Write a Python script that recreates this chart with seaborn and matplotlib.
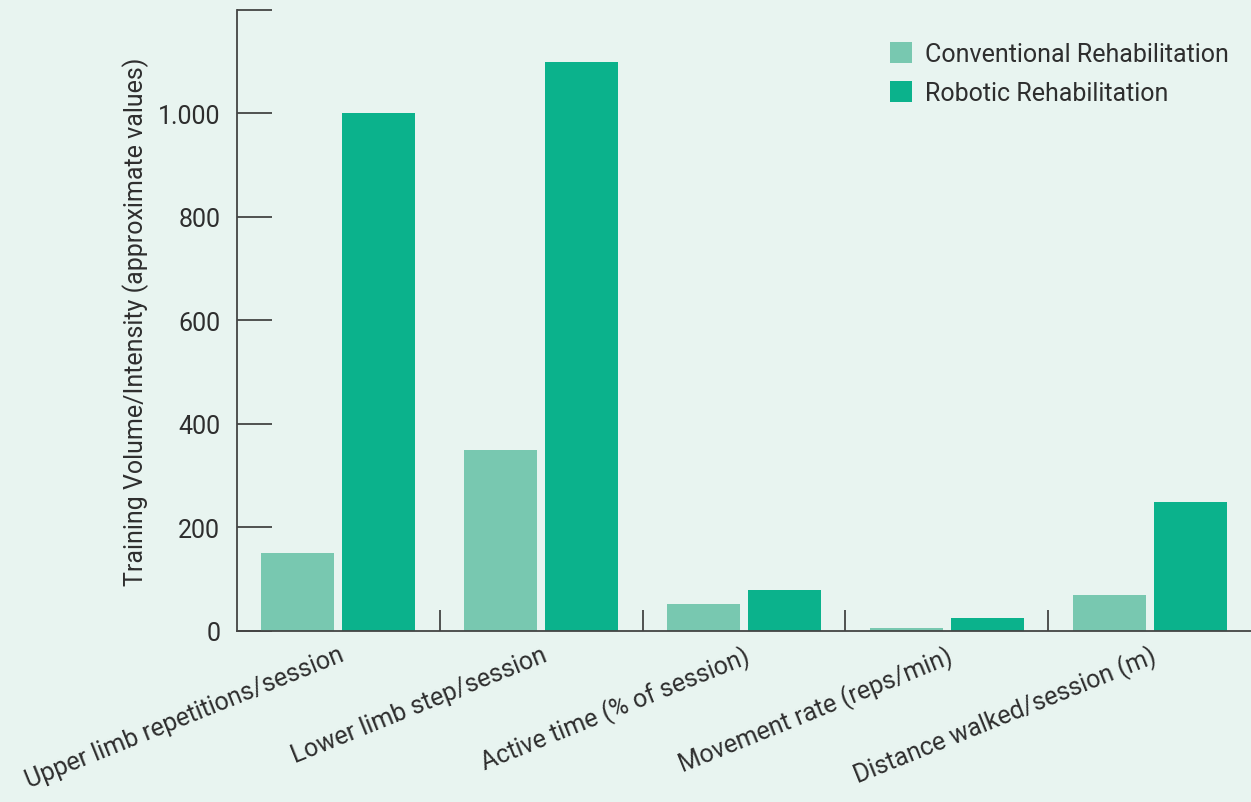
import pandas as pd
import seaborn as sns
import matplotlib.pyplot as plt
from matplotlib.ticker import FuncFormatter, FixedLocator

categories = ['Upper limb repetitions/session', 'Lower limb step/session',
              'Active time (% of session)', 'Movement rate (reps/min)',
              'Distance walked/session (m)']
conventional = [150, 350, 52, 5, 70]
robotic = [1000, 1100, 80, 25, 250]
series = ['Conventional Rehabilitation', 'Robotic Rehabilitation']
y_ticks = [0, 200, 400, 600, 800, 1000, 1200]

data = pd.DataFrame({
    'category': categories * 2,
    'value': conventional + robotic,
    'series': [series[0]] * len(categories) + [series[1]] * len(categories),
})

bg = '#e8f4f0'
txt = '#2e2e2e'
sns.set_theme(style='ticks')
plt.rcParams['font.family'] = ['Roboto', 'DejaVu Sans']

fig = plt.figure(figsize=(12.51, 8.03), dpi=100, facecolor=bg)
ax = fig.add_axes([0.1894, 0.213, 0.8106, 0.7733])
ax.set_facecolor(bg)

sns.barplot(data=data, x='category', y='value', hue='series',
            palette=['#78c8b0', '#0bb28c'], width=0.8, gap=0.1,
            saturation=1, linewidth=0, ax=ax)

ax.set_xlim(-0.5, len(categories) - 0.5)
ax.set_ylim(0, 1200)

# y axis
ax.yaxis.set_major_locator(FixedLocator(y_ticks))
ax.yaxis.set_major_formatter(FuncFormatter(
    lambda v, p: '' if v >= 1200 else f'{v:,.0f}'.replace(',', '.')))
ax.tick_params(axis='y', direction='in', length=25, width=1.3, color='#444444',
               labelsize=18, labelcolor=txt, pad=12)
ax.set_ylabel('Training Volume/Intensity (approximate values)', fontsize=18,
              color=txt, labelpad=6)

# x axis: labels at centers, separator ticks between groups
ax.set_xlabel('')
ax.set_xticks(range(len(categories)))
ax.set_xticklabels(categories, rotation=22, ha='right', rotation_mode='anchor')
ax.tick_params(axis='x', which='major', length=0, labelsize=18,
               labelcolor=txt, pad=8)
ax.set_xticks([i + 0.5 for i in range(len(categories) - 1)], minor=True)
ax.tick_params(axis='x', which='minor', direction='in', length=15, width=1.3,
               color='#444444')

for side in ['top', 'right']:
    ax.spines[side].set_visible(False)
for side in ['left', 'bottom']:
    ax.spines[side].set_color('#444444')
    ax.spines[side].set_linewidth(1.3)

leg = ax.legend(loc='upper right', bbox_to_anchor=(1.0, 0.985), frameon=False,
                fontsize=18, handlelength=0.9, handleheight=0.9,
                handletextpad=0.5, labelspacing=0.6, labelcolor=txt)

fig.savefig('out.png', dpi=100, facecolor=bg)
